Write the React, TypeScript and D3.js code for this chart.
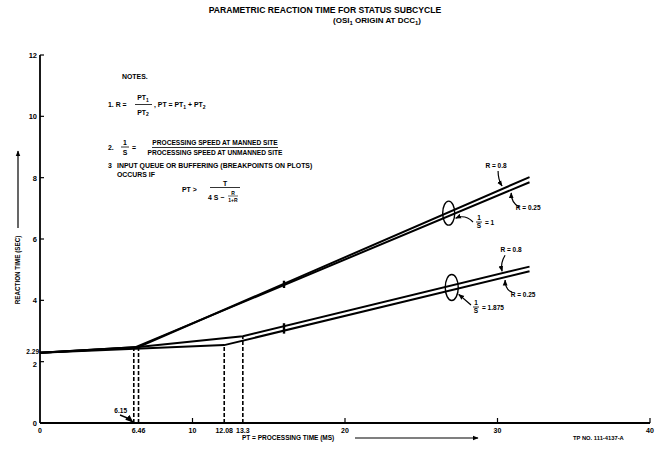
import React from "react";
import * as d3 from "d3";

// chart values
const xTicks = [0, 10, 20, 30, 40];
const yTicks = [0, 2, 4, 6, 8, 10, 12];
const breakLabels = ["6.46", "12.08", "13.3"];
const startTime = 2.29;

// 1/S = 1
const s1r08X = [0, 6.46, 32.1];
const s1r08Y = [2.29, 2.48, 8.02];
const s1r025X = [0, 6.15, 32.1];
const s1r025Y = [2.29, 2.45, 7.85];
// 1/S = 1.875
const s2r08X = [0, 6.46, 13.3, 32.1];
const s2r08Y = [2.29, 2.48, 2.83, 5.1];
const s2r025X = [0, 12.08, 32.1];
const s2r025Y = [2.29, 2.54, 4.95];

const breakX = [6.15, 6.46, 12.08, 13.3];
const breakY = [2.45, 2.48, 2.54, 2.83];

const W = 663;
const H = 452;
const FONT = "'Liberation Sans', Arial, sans-serif";

const zip = (xs: number[], ys: number[]) => xs.map((v, i) => [v, ys[i]] as [number, number]);

const at = (xs: number[], ys: number[], v: number) => {
  for (let i = 1; i < xs.length; i++) {
    if (v <= xs[i]) {
      const t = (v - xs[i - 1]) / (xs[i] - xs[i - 1]);
      return ys[i - 1] + t * (ys[i] - ys[i - 1]);
    }
  }
  return ys[ys.length - 1];
};

const App = () => {
  const x = d3.scaleLinear().domain([0, 40]).range([40, 650]);
  const y = d3.scaleLinear().domain([0, 12]).range([423, 55]);
  const line = d3.line<[number, number]>().x(d => x(d[0])).y(d => y(d[1]));

  const series = [
    zip(s1r08X, s1r08Y),
    zip(s1r025X, s1r025Y),
    zip(s2r08X, s2r08Y),
    zip(s2r025X, s2r025Y),
  ];

  // small marks on each pair at PT ~ 16
  const marks = [
    [16, at(s1r08X, s1r08Y, 16), at(s1r025X, s1r025Y, 16)],
    [16, at(s2r08X, s2r08Y, 16), at(s2r025X, s2r025Y, 16)],
  ];

  // ellipses around each pair
  const ell1 = [x(26.8), y(at(s1r08X, s1r08Y, 26.8)) + 1];
  const ell2 = [x(27), y(at(s2r08X, s2r08Y, 27)) + 2];

  const arrow = (x0: number, y0: number, cx: number, cy: number, x1: number, y1: number) =>
    `M${x0},${y0} Q${cx},${cy} ${x1},${y1}`;

  const t1a = [x(30.3), y(at(s1r08X, s1r08Y, 30.3)) - 3];
  const t1b = [x(30.9), y(at(s1r025X, s1r025Y, 30.9)) + 3];
  const t2a = [x(30.3), y(at(s2r08X, s2r08Y, 30.3)) - 2];
  const t2b = [x(30.5), y(at(s2r025X, s2r025Y, 30.5)) + 3];

  const bold = { fontFamily: FONT, fontWeight: 700 as const, fill: "#000" };

  return (
    <svg width={W} height={H} style={{ position: "absolute", left: 0, top: 0, background: "#fff" }}>
      <defs>
        <marker id="ah" viewBox="0 0 10 10" refX="9" refY="5" markerWidth="5" markerHeight="5" orient="auto">
          <path d="M0,1 L10,5 L0,9 z" fill="#000" />
        </marker>
      </defs>

      {/* title */}
      <text x={325} y={13} textAnchor="middle" fontSize={8.6} {...bold}>
        PARAMETRIC REACTION TIME FOR STATUS SUBCYCLE
      </text>
      <text x={333} y={22.5} fontSize={8} {...bold}>
        (OSI<tspan fontSize={6} dy={2}>1</tspan>
        <tspan dy={-2}> ORIGIN AT DCC</tspan>
        <tspan fontSize={6} dy={2}>1</tspan>
        <tspan dy={-2}>)</tspan>
      </text>

      {/* axes */}
      <line x1={x(0)} x2={x(0)} y1={y(12)} y2={y(0)} stroke="#000" strokeWidth={1.8} />
      <line x1={x(0)} x2={x(40)} y1={y(0)} y2={y(0)} stroke="#000" strokeWidth={1.8} />
      {yTicks.map(t => (
        <g key={"y" + t}>
          <line x1={x(0)} x2={x(0) + 4} y1={y(t)} y2={y(t)} stroke="#000" strokeWidth={1.2} />
          <text x={x(0) - 3} y={y(t) + (t === 2 ? 5 : 3)} textAnchor="end" fontSize={7.5} {...bold}>
            {t}
          </text>
        </g>
      ))}
      <text x={x(0) - 1} y={y(startTime) + 1.5} textAnchor="end" fontSize={6.5} {...bold}>
        {startTime.toFixed(2)}
      </text>
      {xTicks.map(t => (
        <g key={"x" + t}>
          {t > 0 && <line x1={x(t)} x2={x(t)} y1={y(0)} y2={y(0) - 5} stroke="#000" strokeWidth={1.2} />}
          <text x={x(t)} y={y(0) + 10} textAnchor="middle" fontSize={7} {...bold}>
            {t}
          </text>
        </g>
      ))}
      {breakLabels.map(l => (
        <text key={l} x={x(+l)} y={y(0) + 10} textAnchor="middle" fontSize={7} {...bold}>
          {l}
        </text>
      ))}

      {/* breakpoint drop lines */}
      {breakX.map((b, i) => (
        <line key={"b" + i} x1={x(b)} x2={x(b)} y1={y(0)} y2={y(breakY[i])} stroke="#000" strokeWidth={1.6} strokeDasharray="4,2" />
      ))}
      <text x={127} y={413} textAnchor="end" fontSize={6.5} {...bold}>6.15</text>
      <path d={arrow(120, 415, 127, 417, x(6.15) - 1, y(0) - 1)} fill="none" stroke="#000" strokeWidth={1.6} markerEnd="url(#ah)" />

      {/* curves */}
      {series.map((s, i) => (
        <path key={"s" + i} d={line(s) || ""} fill="none" stroke="#000" strokeWidth={2} />
      ))}
      {marks.map((m, i) => (
        <g key={"m" + i}>
          <line x1={x(m[0])} x2={x(m[0])} y1={y(m[1]) - 3} y2={y(m[2]) + 3} stroke="#000" strokeWidth={2.4} />
        </g>
      ))}

      {/* annotations */}
      <ellipse cx={ell1[0]} cy={ell1[1]} rx={6} ry={12} fill="none" stroke="#000" strokeWidth={1.4} />
      <ellipse cx={ell2[0]} cy={ell2[1]} rx={6.5} ry={13} fill="none" stroke="#000" strokeWidth={1.4} />

      <text x={t1a[0] - 6} y={t1a[1] - 18} textAnchor="middle" fontSize={6.5} {...bold}>R = 0.8</text>
      <path d={arrow(t1a[0] - 4, t1a[1] - 15, t1a[0] - 4, t1a[1] - 6, t1a[0], t1a[1])} fill="none" stroke="#000" strokeWidth={1.2} markerEnd="url(#ah)" />
      <text x={t1b[0] + 17} y={t1b[1] + 17} textAnchor="middle" fontSize={6.5} {...bold}>R = 0.25</text>
      <path d={arrow(t1b[0] + 8, t1b[1] + 14, t1b[0], t1b[1] + 10, t1b[0], t1b[1])} fill="none" stroke="#000" strokeWidth={1.2} markerEnd="url(#ah)" />

      <g {...bold} fontSize={6.5}>
        <text x={479} y={220} textAnchor="middle">1</text>
        <line x1={476} x2={482} y1={222} y2={222} stroke="#000" strokeWidth={0.8} />
        <text x={479} y={228} textAnchor="middle">S</text>
        <text x={485} y={225}>= 1</text>
      </g>
      <path d={arrow(473, 222, 465, 214, ell1[0] + 7, ell1[1] + 5)} fill="none" stroke="#000" strokeWidth={1.2} markerEnd="url(#ah)" />

      <text x={t2a[0] + 9} y={t2a[1] - 19} textAnchor="middle" fontSize={6.5} {...bold}>R = 0.8</text>
      <path d={arrow(t2a[0] + 3, t2a[1] - 16, t2a[0] - 2, t2a[1] - 8, t2a[0], t2a[1])} fill="none" stroke="#000" strokeWidth={1.2} markerEnd="url(#ah)" />
      <text x={t2b[0] + 18} y={t2b[1] + 17} textAnchor="middle" fontSize={6.5} {...bold}>R = 0.25</text>
      <path d={arrow(t2b[0] + 7, t2b[1] + 12, t2b[0], t2b[1] + 10, t2b[0], t2b[1])} fill="none" stroke="#000" strokeWidth={1.2} markerEnd="url(#ah)" />

      <g {...bold} fontSize={6.5}>
        <text x={476} y={305} textAnchor="middle">1</text>
        <line x1={473} x2={479} y1={307} y2={307} stroke="#000" strokeWidth={0.8} />
        <text x={476} y={313} textAnchor="middle">S</text>
        <text x={482} y={310}>= 1.875</text>
      </g>
      <path d={arrow(471, 305, 463, 298, ell2[0] + 7, ell2[1] + 7)} fill="none" stroke="#000" strokeWidth={1.2} markerEnd="url(#ah)" />

      {/* notes */}
      <g {...bold} fontSize={6.9}>
        <text x={122} y={79}>NOTES.</text>

        <text x={108} y={107}>1. R =</text>
        <text x={143} y={100} textAnchor="middle">PT<tspan fontSize={5} dy={1.5}>1</tspan></text>
        <line x1={135} x2={152} y1={104.5} y2={104.5} stroke="#000" strokeWidth={0.8} />
        <text x={143} y={114.5} textAnchor="middle">PT<tspan fontSize={5} dy={1.5}>2</tspan></text>
        <text x={154} y={107}>
          , PT = PT<tspan fontSize={5} dy={1.5}>1</tspan>
          <tspan dy={-1.5}> + PT</tspan>
          <tspan fontSize={5} dy={1.5}>2</tspan>
        </text>

        <text x={108} y={150}>2.</text>
        <text x={125} y={145} textAnchor="middle">1</text>
        <line x1={121} x2={129} y1={147} y2={147} stroke="#000" strokeWidth={0.8} />
        <text x={125} y={154.5} textAnchor="middle">S</text>
        <text x={132} y={150}>=</text>
        <text x={215} y={145} textAnchor="middle" fontSize={6.6}>PROCESSING SPEED AT MANNED SITE</text>
        <line x1={152} x2={278} y1={147.5} y2={147.5} stroke="#000" strokeWidth={0.8} />
        <text x={215} y={155} textAnchor="middle" fontSize={6.6}>PROCESSING SPEED AT UNMANNED SITE</text>

        <text x={108} y={167.5}>3</text>
        <text x={117} y={167.5}>INPUT QUEUE OR BUFFERING (BREAKPOINTS ON PLOTS)</text>
        <text x={117} y={176.5}>OCCURS IF</text>

        <text x={182} y={192}>PT &gt;</text>
        <text x={225} y={185.5} textAnchor="middle">T</text>
        <line x1={210} x2={240} y1={187.5} y2={187.5} stroke="#000" strokeWidth={0.8} />
        <text x={208} y={199.5}>4 S −</text>
        <text x={233} y={194.5} textAnchor="middle" fontSize={5}>R</text>
        <line x1={228} x2={238} y1={196} y2={196} stroke="#000" strokeWidth={0.6} />
        <text x={233} y={201.5} textAnchor="middle" fontSize={5}>1+R</text>
      </g>

      {/* axis titles */}
      <text transform="translate(20,270) rotate(-90)" textAnchor="middle" fontSize={6.3} {...bold}>
        REACTION TIME (SEC)
      </text>
      <line x1={18} x2={18} y1={228} y2={151} stroke="#000" strokeWidth={1.2} markerEnd="url(#ah)" />

      <text x={242} y={440} fontSize={6.5} {...bold}>PT = PROCESSING TIME (MS)</text>
      <line x1={355} x2={478} y1={438} y2={438} stroke="#000" strokeWidth={1.2} markerEnd="url(#ah)" />

      <text x={573} y={440} fontSize={5.8} {...bold}>TP NO. 111-4137-A</text>
    </svg>
  );
};

export default App;
